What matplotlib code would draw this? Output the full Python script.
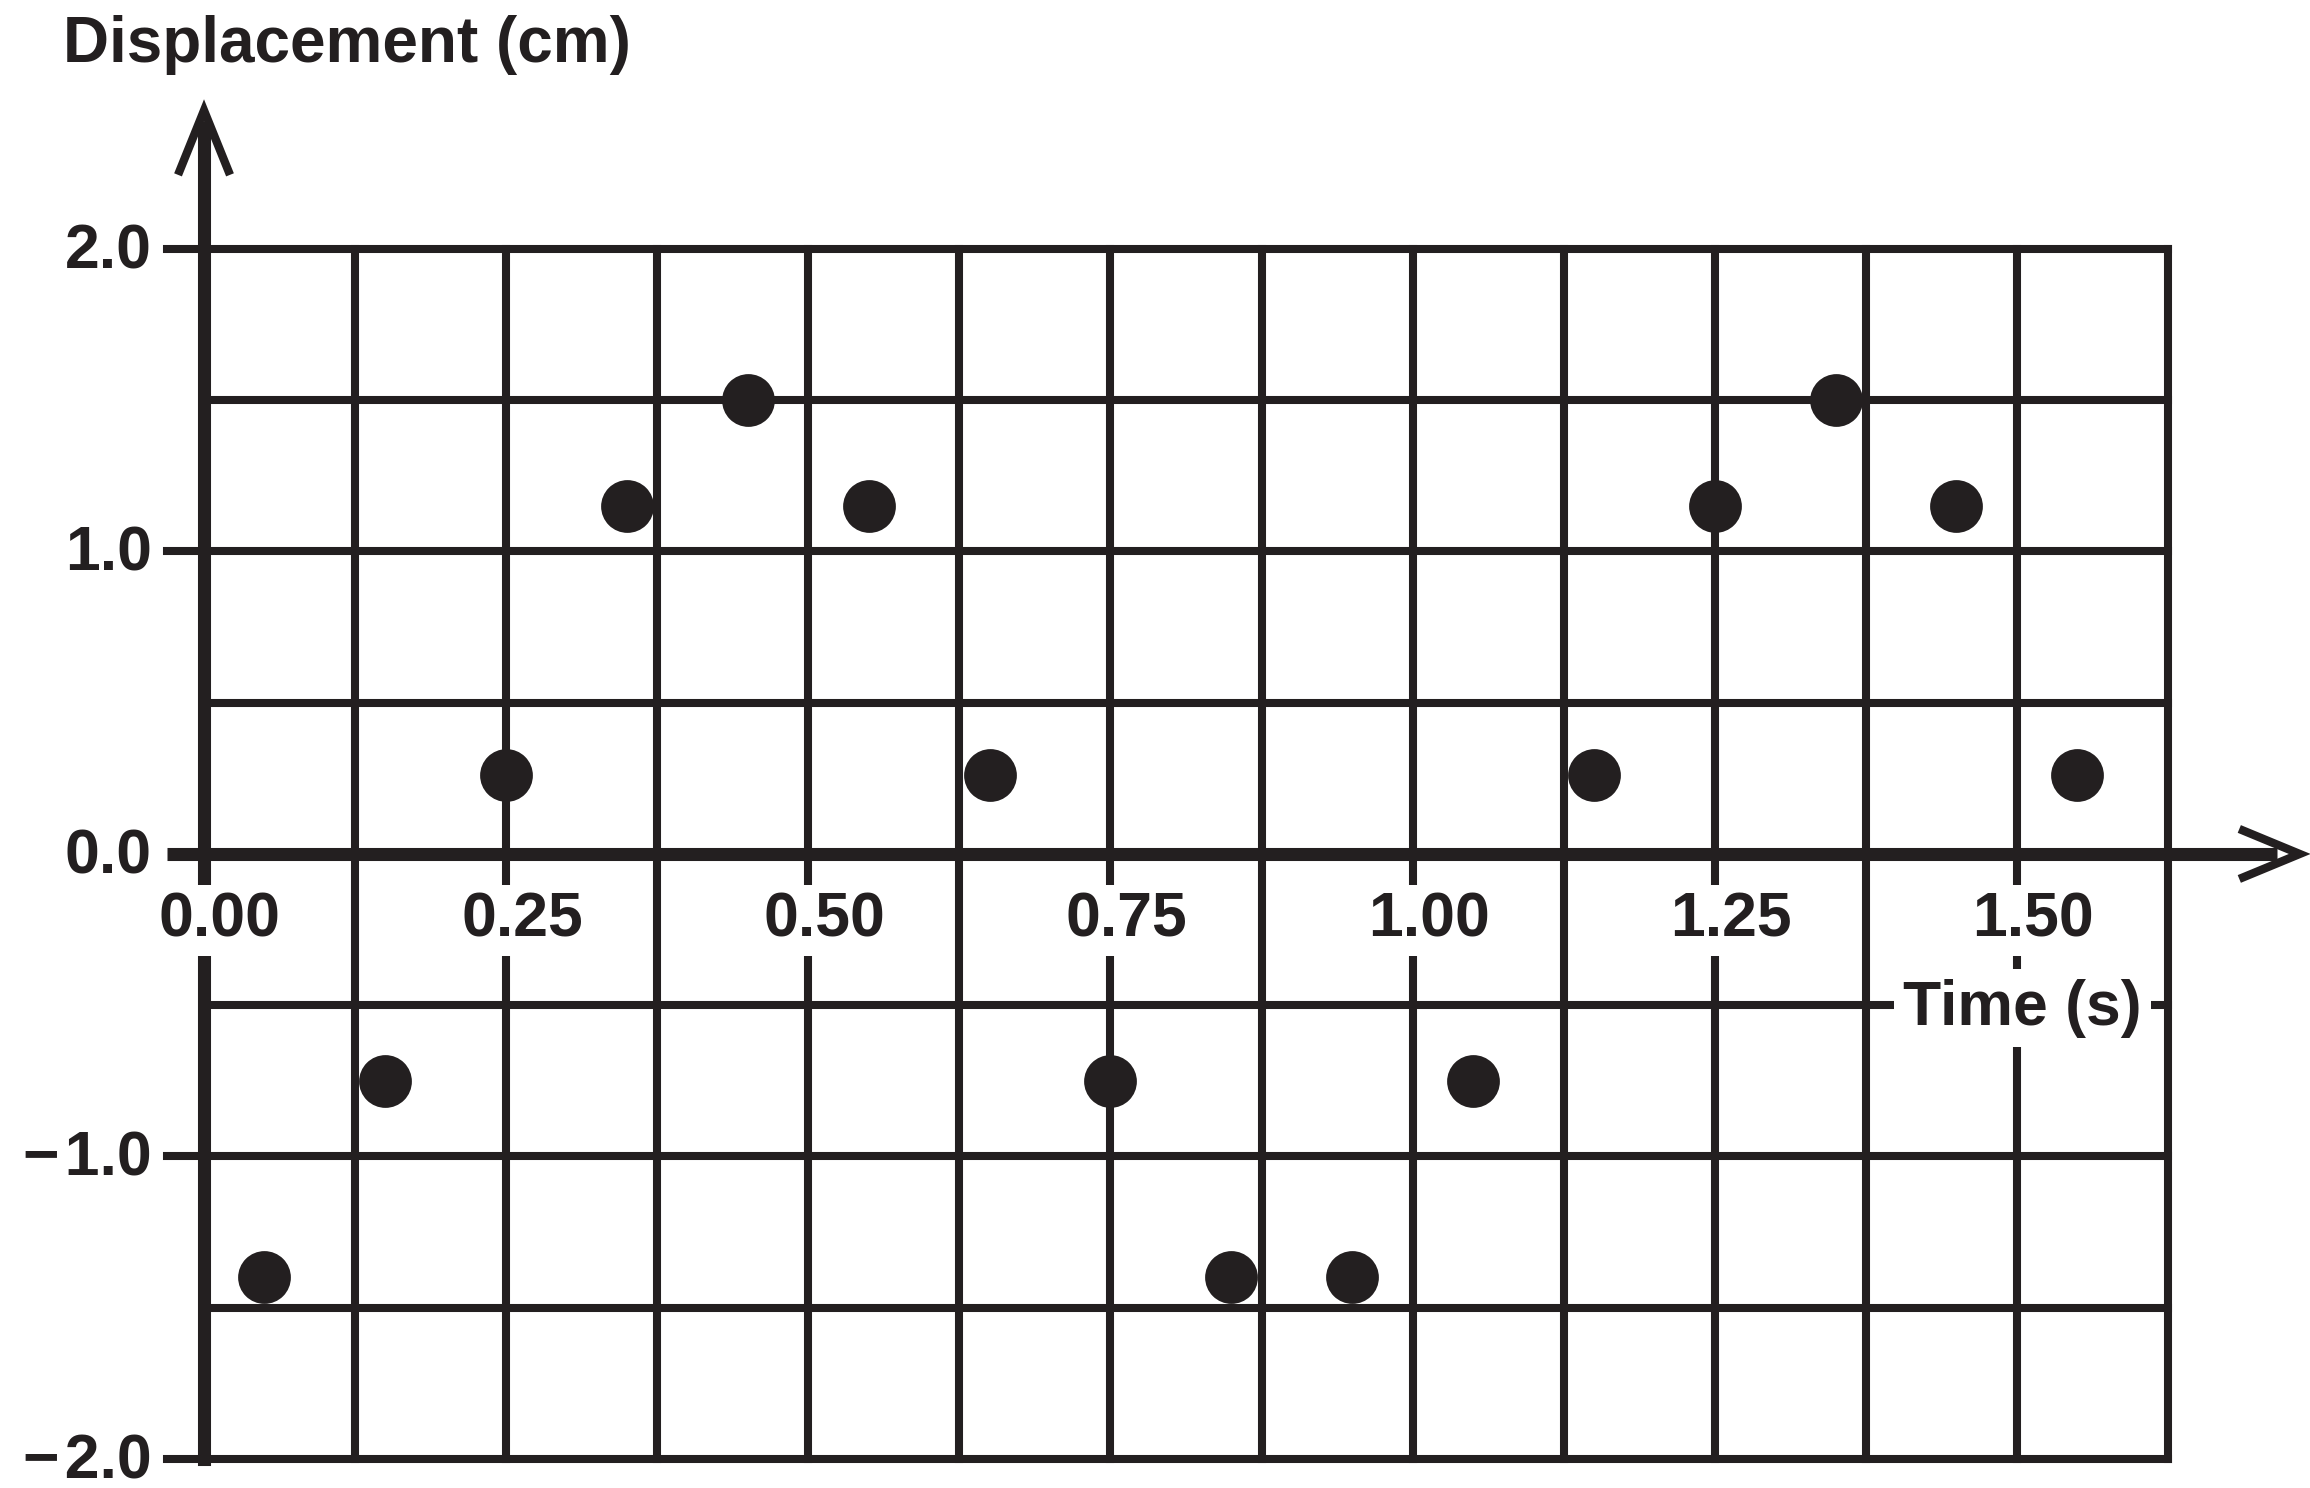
import matplotlib.pyplot as plt
import numpy as np

# measured points (time in s, displacement in cm)
time_s = [0.05, 0.15, 0.25, 0.35, 0.45, 0.55, 0.65, 0.75,
          0.85, 0.95, 1.05, 1.15, 1.25, 1.35, 1.45, 1.55]
disp_cm = [-1.4, -0.75, 0.26, 1.15, 1.5, 1.15, 0.26, -0.75,
           -1.4, -1.4, -0.75, 0.26, 1.15, 1.5, 1.15, 0.26]

x_ticks = [0.0, 0.25, 0.5, 0.75, 1.0, 1.25, 1.5]
x_labels = ['0.00', '0.25', '0.50', '0.75', '1.00', '1.25', '1.50']
y_ticks = [2.0, 1.0, 0.0, -1.0, -2.0]
y_labels = ['2.0', '1.0', '0.0', '\u2212\u200a1.0', '\u2212\u200a2.0']

ink = '#231f20'
plt.rcParams['font.family'] = ['Liberation Sans', 'DejaVu Sans']
plt.rcParams['font.weight'] = 'bold'
fs = 45

fig = plt.figure(figsize=(23.1, 14.88), dpi=100)
ax = fig.add_axes([0, 0, 1, 1])
ax.set_xlim(-0.1688, 1.7425)
ax.set_ylim(-2.096, 2.823)
ax.axis('off')

x_end = 1.625
grid_x = np.linspace(0.125, x_end, 13)
grid_y = np.linspace(-2.0, 2.0, 9)
tick_len = 0.031  # y tick stubs to the left of the axis

# grid
ax.vlines(grid_x, -2.0, 2.0, color=ink, lw=5.8, capstyle='projecting', zorder=1)
for y in grid_y:
    if y == 0:
        continue
    start = -tick_len if y in y_ticks else 0.0
    ax.hlines(y, start, x_end, color=ink, lw=5.8, capstyle='projecting', zorder=1)

# y axis with open arrow head
ax.plot([0, 0], [-2.0, 2.40], color=ink, lw=9.4, solid_capstyle='projecting', zorder=2)
ax.plot([-0.0215, 0, 0.0215], [2.245, 2.458, 2.245], color=ink, lw=6,
        solid_joinstyle='miter', solid_capstyle='butt', zorder=2, clip_on=False)

# x axis with open arrow head
ax.plot([-tick_len, 1.715], [0, 0], color=ink, lw=9.4, solid_capstyle='butt', zorder=2)
ax.plot([1.684, 1.734, 1.684], [0.0826, 0, -0.0826], color=ink, lw=6,
        solid_joinstyle='miter', solid_capstyle='butt', zorder=2, clip_on=False)

# tick labels (x labels sit a little right of their ticks, as in the original)
for x, lab in zip(x_ticks, x_labels):
    ax.text(x + 0.0132, -0.274, lab, ha='center', va='baseline', fontsize=fs, color=ink,
            bbox=dict(boxstyle='square,pad=0.1', fc='white', ec='none'), zorder=3)
for y, lab in zip(y_ticks, y_labels):
    ax.text(-0.043, y - 0.063, lab, ha='right', va='baseline', fontsize=fs, color=ink)

# axis titles
ax.text(-0.1167, 2.618, 'Displacement (cm)', ha='left', va='baseline',
        fontsize=46, color=ink)
ax.text(1.5046, -0.565, 'Time (s)', ha='center', va='baseline', fontsize=fs, color=ink,
        bbox=dict(boxstyle='square,pad=0.15', fc='white', ec='none'), zorder=3)

# data points
ax.plot(time_s, disp_cm, 'o', ms=38, mew=0, color=ink, zorder=5)

fig.savefig('out.png', dpi=100)
